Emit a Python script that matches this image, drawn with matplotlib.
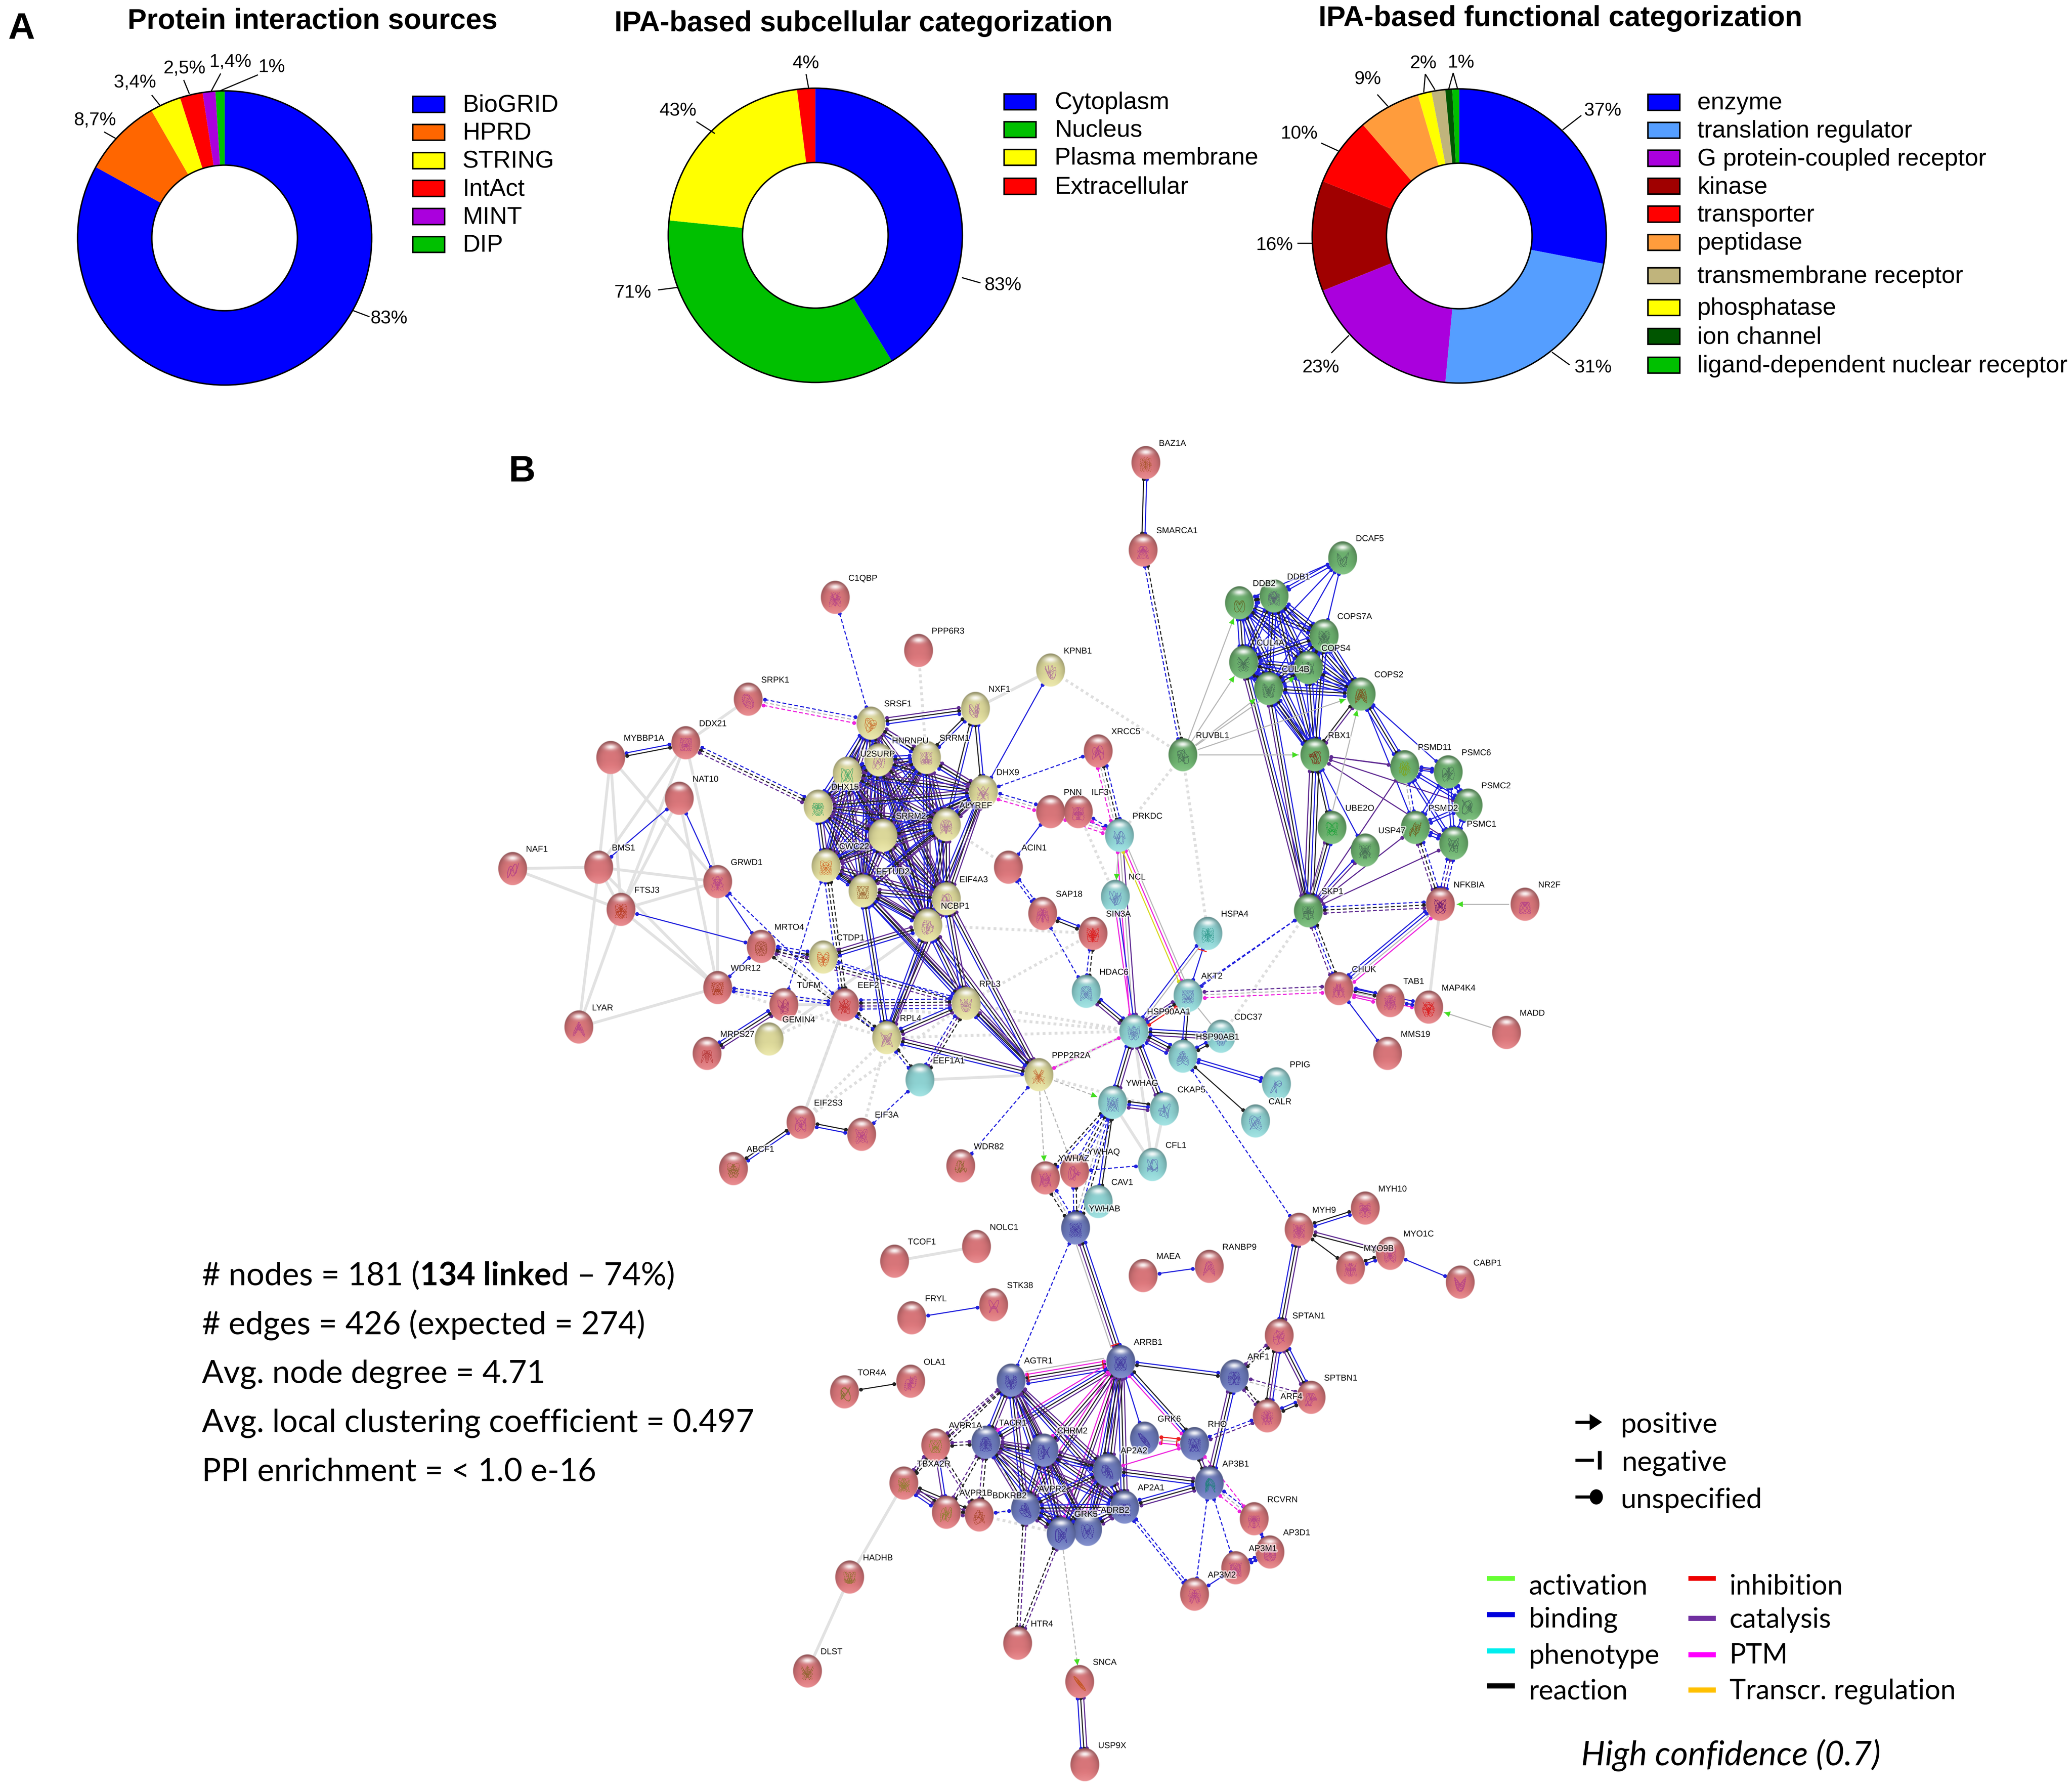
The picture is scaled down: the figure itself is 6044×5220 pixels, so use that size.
import numpy as np
import matplotlib
matplotlib.use("Agg")
import matplotlib.pyplot as plt
import matplotlib.patheffects as pe
from matplotlib.patches import Rectangle, Circle, Polygon, Ellipse

# ---- panel A data ----
source_names = ["BioGRID", "HPRD", "STRING", "IntAct", "MINT", "DIP"]
source_values = [83, 8.7, 3.4, 2.5, 1.4, 1]
source_labels = ["83%", "8,7%", "3,4%", "2,5%", "1,4%", "1%"]
source_colors = ["#0000ff", "#ff6600", "#ffff00", "#ff0000", "#aa00dd", "#00c000"]

subcell_names = ["Cytoplasm", "Nucleus", "Plasma membrane", "Extracellular"]
subcell_values = [83, 71, 43, 4]
subcell_labels = ["83%", "71%", "43%", "4%"]
subcell_colors = ["#0000ff", "#00c000", "#ffff00", "#ff0000"]

# slices run in this order, the legend swaps transmembrane and phosphatase
func_names = ["enzyme", "translation regulator", "G protein-coupled receptor", "kinase",
              "transporter", "peptidase", "phosphatase", "transmembrane receptor",
              "ion channel", "ligand-dependent nuclear receptor"]
func_values = [37, 31, 23, 16, 10, 9, 2, 2, 1, 1]
func_colors = ["#0000ff", "#559eff", "#aa00dd", "#a00000", "#ff0000", "#ff9c3c",
               "#ffff00", "#c0b47c", "#005500", "#00c000"]
func_legend_order = [0, 1, 2, 3, 4, 5, 7, 6, 8, 9]

# ---- panel B nodes ----
red_names = ["BAZ1A", "SMARCA1", "C1QBP", "PPP6R3", "SRPK1", "DDX21", "MYBBP1A", "NAT10", "PNN", "ILF3",
             "NAF1", "BMS1", "GRWD1", "ACIN1", "FTSJ3", "SAP18", "MRTO4", "WDR12", "TUFM", "EEF2",
             "LYAR", "MRPS27", "EIF2S3", "EIF3A", "ABCF1", "WDR82", "XRCC5", "SIN3A", "NFKBIA", "NR2F",
             "CHUK", "TAB1", "MAP4K4", "MADD", "MMS19", "YWHAZ", "YWHAQ", "TCOF1", "NOLC1", "MAEA",
             "RANBP9", "STK38", "FRYL", "MYH9", "MYH10", "MYO9B", "MYO1C", "CABP1", "SPTAN1", "SPTBN1",
             "ARF4", "OLA1", "TOR4A", "AVPR1A", "TBXA2R", "AVPR1B", "BDKRB2", "RCVRN", "AP3D1", "AP3M1",
             "AP3M2", "HADHB", "DLST", "HTR4", "SNCA", "USP9X"]
red_x = [867, 865, 632, 695, 566, 519, 462, 514, 795, 816,
         388, 453, 543, 763, 470, 789, 576, 543, 593, 639,
         438, 535, 606, 652, 555, 727, 831, 827, 1090, 1154,
         1013, 1052, 1081, 1140, 1050, 791, 813, 677, 739, 865,
         915, 752, 690, 983, 1033, 1022, 1052, 1105, 968, 992,
         959, 689, 639, 708, 684, 716, 741, 949, 961, 935,
         904, 643, 611, 770, 817, 821]
red_y = [350, 416, 452, 492, 529, 562, 573, 604, 614, 614,
         657, 656, 667, 656, 688, 691, 716, 747, 760, 760,
         777, 797, 849, 858, 884, 882, 568, 706, 684, 684,
         748, 757, 762, 781, 797, 891, 886, 954, 943, 965,
         958, 987, 997, 930, 914, 959, 948, 970, 1010, 1057,
         1071, 1045, 1053, 1093, 1122, 1144, 1146, 1149, 1174, 1186,
         1206, 1193, 1264, 1243, 1272, 1335]

yellow_names = ["KPNB1", "NXF1", "SRSF1", "SRRM1", "HNRNPU", "U2SURP", "DHX9", "DHX15", "ALYREF", "SRRM2",
                "CWC22", "EFTUD2", "EIF4A3", "NCBP1", "CTDP1", "RPL3", "GEMIN4", "RPL4", "PPP2R2A"]
yellow_x = [795, 738, 659, 701, 665, 641, 744, 619, 716, 668, 625, 653, 716, 702, 623, 731, 582, 671, 786]
yellow_y = [507, 536, 547, 573, 575, 585, 599, 610, 624, 632, 655, 674, 680, 700, 724, 759, 786, 785, 813]

teal_names = ["PRKDC", "NCL", "HSPA4", "HDAC6", "AKT2", "HSP90AA1", "CDC37", "HSP90AB1", "PPIG", "CALR",
              "YWHAG", "CKAP5", "CFL1", "CAV1", "EEF1A1"]
teal_x = [847, 844, 914, 822, 899, 858, 924, 895, 966, 950, 842, 881, 872, 831, 696]
teal_y = [632, 678, 706, 750, 753, 780, 784, 799, 820, 848, 834, 839, 881, 909, 817]

green_names = ["DCAF5", "DDB2", "DDB1", "COPS7A", "CUL4A", "COPS4", "CUL4B", "COPS2", "RUVBL1", "RBX1",
               "PSMD11", "PSMC6", "PSMC2", "UBE2O", "USP47", "PSMD2", "PSMC1", "SKP1"]
green_x = [1016, 938, 964, 1002, 941, 990, 960, 1030, 895, 995, 1063, 1096, 1111, 1008, 1033, 1071, 1100, 990]
green_y = [422, 456, 451, 481, 501, 505, 521, 525, 571, 571, 580, 584, 609, 626, 643, 626, 638, 689]

blue_names = ["YWHAB", "ARRB1", "AGTR1", "ARF1", "TACR1", "CHRM2", "GRK6", "RHO", "AP2A2", "AP3B1",
              "AVPR2", "AP2A1", "ADRB2", "GRK5"]
blue_x = [814, 848, 765, 934, 746, 790, 866, 904, 838, 915, 776, 851, 823, 803]
blue_y = [929, 1030, 1044, 1041, 1091, 1097, 1088, 1092, 1112, 1122, 1141, 1140, 1157, 1160]

# nodes without a structure picture inside
empty_nodes = ["PPP6R3", "MYBBP1A", "NAT10", "PNN", "BMS1", "ACIN1", "SRRM2", "GEMIN4", "EEF1A1", "CAV1",
               "TCOF1", "NOLC1", "FRYL", "MAEA", "HTR4", "USP9X", "MADD", "MMS19"]
structure_colors = {"FTSJ3": "#b03010", "EEF2": "#c02020", "SIN3A": "#dd0000", "MAP4K4": "#dd0000",
                    "CWC22": "#d05010", "CTDP1": "#d04010", "SRSF1": "#c86020", "EFTUD2": "#905020",
                    "DHX15": "#30a060", "U2SURP": "#30a060", "WDR12": "#a03010", "MRTO4": "#904020",
                    "TUFM": "#a03070", "DDB2": "#606020", "DDB1": "#505070", "COPS2": "#804010",
                    "RBX1": "#802010", "UBE2O": "#10a030", "PSMD11": "#80a010", "PSMD2": "#705010",
                    "HSPA4": "#209080", "AP3B1": "#108070", "NFKBIA": "#500070", "SNCA": "#c05010",
                    "PPP2R2A": "#c05020", "BAZ1A": "#a05020", "TOR4A": "#707020", "AVPR1A": "#808020",
                    "TBXA2R": "#808020", "AVPR1B": "#808020", "BDKRB2": "#a04020", "ABCF1": "#806020",
                    "WDR82": "#806020", "HADHB": "#807020", "DLST": "#806020", "MRPS27": "#b03030"}
group_structure = {"#d8767a": "#b03a8a", "#dcd89a": "#a8609a", "#8ed2d2": "#5a6ab0",
                   "#6cb06e": "#406050", "#6c7abb": "#3a2a9a"}

# ---- panel B edges ----
solid_edges = [("BAZ1A", "SMARCA1", "bk"), ("MYBBP1A", "DDX21", "bk"), ("BMS1", "NAT10", "b"), ("NAT10", "GRWD1", "b"),
               ("GRWD1", "MRTO4", "b"), ("FTSJ3", "MRTO4", "b"), ("WDR12", "MRTO4", "b"), ("KPNB1", "DHX9", "b"),
               ("SRSF1", "NXF1", "pkb"), ("NXF1", "SRRM1", "bk"), ("NXF1", "DHX9", "bk"), ("NXF1", "ALYREF", "bk"),
               ("CTDP1", "NCBP1", "pkb"), ("TUFM", "MRPS27", "pkb"), ("ACIN1", "PNN", "b"), ("SAP18", "SIN3A", "bk"),
               ("RPL3", "RPL4", "pkb"), ("RPL4", "PPP2R2A", "pkb"), ("RPL3", "PPP2R2A", "pkb"), ("NCBP1", "RPL3", "pkb"),
               ("NCBP1", "RPL4", "pkb"), ("NCBP1", "PPP2R2A", "pkb"), ("EIF4A3", "PPP2R2A", "pkb"), ("EFTUD2", "RPL3", "pkb"),
               ("EFTUD2", "RPL4", "bkb"), ("EFTUD2", "PPP2R2A", "pkb"), ("EIF4A3", "RPL3", "pkb"), ("EIF4A3", "RPL4", "pkb"),
               ("EIF2S3", "EIF3A", "kb"), ("EIF2S3", "ABCF1", "bk"),
               ("PRKDC", "HSP90AA1", "pgm"), ("PRKDC", "AKT2", "gmy"), ("NCL", "HSP90AA1", "bm"), ("HDAC6", "HSP90AA1", "bkp"),
               ("HSP90AA1", "HSPA4", "bg"), ("HSP90AA1", "AKT2", "pkr"), ("AKT2", "HSPA4", "b"), ("HSP90AA1", "CDC37", "bkp"),
               ("HSP90AA1", "HSP90AB1", "bkpb"), ("HSP90AB1", "AKT2", "bk"), ("HSP90AB1", "CDC37", "bk"), ("AKT2", "CDC37", "g"),
               ("HSP90AA1", "YWHAG", "pkb"), ("HSP90AA1", "CKAP5", "bkp"), ("HSP90AB1", "PPIG", "bb"), ("HSP90AB1", "CALR", "k"),
               ("YWHAG", "CKAP5", "kbp"), ("YWHAG", "CAV1", "kb"),
               ("CHUK", "MMS19", "b"), ("CHUK", "TAB1", "bkgm"), ("CHUK", "MAP4K4", "bgm"), ("TAB1", "MAP4K4", "b"),
               ("CHUK", "NFKBIA", "bbgm"),
               ("SKP1", "RBX1", "pkbk"), ("SKP1", "UBE2O", "pkb"), ("SKP1", "USP47", "bp"), ("SKP1", "PSMD2", "p"),
               ("SKP1", "PSMC1", "p"), ("SKP1", "PSMD11", "p"), ("SKP1", "CUL4A", "pkb"), ("SKP1", "CUL4B", "pkb"),
               ("DCAF5", "DDB1", "bb"), ("DCAF5", "DDB2", "b"), ("DCAF5", "CUL4A", "b"), ("DCAF5", "CUL4B", "b"),
               ("DCAF5", "COPS7A", "b"), ("COPS2", "PSMD11", "bkb"), ("COPS2", "PSMC6", "b"), ("COPS2", "PSMD2", "b"),
               ("RBX1", "PSMD11", "p"), ("RBX1", "PSMC6", "p"), ("RBX1", "PSMC2", "p"), ("RBX1", "PSMC1", "p"),
               ("RBX1", "UBE2O", "bk"), ("RBX1", "USP47", "b"), ("COPS2", "RBX1", "pk"),
               ("YWHAB", "ARRB1", "bkpg"), ("ARRB1", "AGTR1", "bpkmg"), ("ARRB1", "ARF1", "bk"), ("ARRB1", "RHO", "kbm"),
               ("ARRB1", "GRK6", "b"), ("ARRB1", "TACR1", "pkbm"), ("ARRB1", "CHRM2", "pkm"), ("ARRB1", "AP2A2", "pkbk"),
               ("ARRB1", "AP2A1", "pkb"), ("ARRB1", "ADRB2", "pkbm"), ("ARRB1", "GRK5", "pkm"), ("ARRB1", "AVPR2", "pkm"),
               ("MYH9", "MYH10", "kb"), ("MYH9", "MYO9B", "k"), ("MYH9", "MYO1C", "pk"), ("MYO9B", "MYO1C", "kb"),
               ("MYO1C", "CABP1", "b"), ("SPTAN1", "MYH9", "bkp"), ("SPTAN1", "SPTBN1", "bkp"), ("SPTAN1", "ARF4", "bpk"),
               ("ARF4", "SPTBN1", "bk"), ("ARF1", "AP3B1", "bkp"), ("AP3B1", "AP2A1", "pkb"), ("AP3B1", "AP2A2", "bkp"),
               ("AP3B1", "RHO", "kp"), ("RHO", "GRK6", "mgr"), ("RHO", "AP2A2", "m"), ("AP3M1", "AP3M2", "b"),
               ("AP3M1", "AP3D1", "bb"), ("RCVRN", "AP3D1", "b"), ("TOR4A", "OLA1", "k"), ("FRYL", "STK38", "b"),
               ("MAEA", "RANBP9", "b"), ("SNCA", "USP9X", "pkb"), ("TBXA2R", "AVPR1B", "kpb"), ("AVPR1A", "AVPR1B", "bp"),
               ("TBXA2R", "BDKRB2", "kp"), ("AVPR1B", "BDKRB2", "kp"), ("TACR1", "AVPR2", "kp")]

dashed_edges = [("SMARCA1", "RUVBL1", "kb"), ("SRPK1", "SRSF1", "bgm"), ("C1QBP", "SRSF1", "b"), ("DDX21", "DHX15", "bkp"),
                ("XRCC5", "DHX9", "b"), ("DHX9", "PNN", "bgm"), ("PNN", "PRKDC", "bgm"), ("XRCC5", "PRKDC", "bkgm"),
                ("ILF3", "PRKDC", "bm"), ("GRWD1", "EEF2", "b"), ("MRTO4", "CTDP1", "bkp"), ("MRTO4", "RPL3", "bkp"),
                ("MRTO4", "RPL4", "gk"), ("CWC22", "TUFM", "b"), ("CWC22", "EEF2", "kkb"), ("CTDP1", "RPL3", "b"),
                ("WDR12", "EEF2", "bb"), ("EEF2", "RPL3", "bkpb"), ("EEF2", "RPL4", "kb"), ("RPL4", "EEF1A1", "kb"),
                ("RPL3", "EEF1A1", "kpb"), ("ACIN1", "SAP18", "bb"), ("SAP18", "HDAC6", "b"), ("SIN3A", "HDAC6", "kb"),
                ("EIF3A", "EEF1A1", "b"), ("PPP2R2A", "WDR82", "b"), ("PPP2R2A", "HSP90AA1", "m"), ("HSP90AB1", "MYH9", "b"),
                ("PPP2R2A", "YWHAQ", "g"),
                ("SKP1", "AKT2", "b"), ("SKP1", "HSP90AA1", "b"), ("SKP1", "CHUK", "kbp"), ("AKT2", "CHUK", "pgm"),
                ("SKP1", "NFKBIA", "bkp"), ("PSMD2", "NFKBIA", "bkp"), ("PSMC1", "NFKBIA", "bpb"), ("PSMD11", "PSMD2", "bg"),
                ("YWHAG", "YWHAZ", "bk"), ("YWHAG", "YWHAQ", "bkb"), ("YWHAG", "YWHAB", "kbg"), ("YWHAZ", "YWHAB", "bgk"),
                ("YWHAQ", "YWHAB", "kb"), ("CFL1", "YWHAQ", "b"), ("YWHAB", "AGTR1", "b"), ("SPTAN1", "ARF1", "kp"),
                ("ARF1", "ARF4", "kp"), ("ARF1", "SPTBN1", "pg"), ("ARF4", "RHO", "pb"), ("AP3B1", "RCVRN", "bgm"),
                ("AP3B1", "AP3M2", "b"), ("AP3B1", "AP3M1", "b"), ("AP2A1", "AP3M2", "bb"), ("RCVRN", "RHO", "m"),
                ("HTR4", "AVPR2", "kp"), ("HTR4", "GRK5", "kp"), ("AGTR1", "AVPR1A", "kp"), ("AGTR1", "TBXA2R", "kp"),
                ("TACR1", "AVPR1A", "kp"), ("TACR1", "AVPR1B", "kp"), ("TACR1", "BDKRB2", "kp"), ("AVPR1A", "TBXA2R", "kp"),
                ("AVPR1A", "BDKRB2", "kp"), ("BDKRB2", "AVPR2", "b")]

# grey line ending in a green arrow head
arrow_edges = [("RUVBL1", "DDB2"), ("RUVBL1", "CUL4A"), ("RUVBL1", "CUL4B"), ("RUVBL1", "COPS4"), ("RUVBL1", "COPS2"),
               ("RUVBL1", "RBX1"), ("NR2F", "NFKBIA"), ("MADD", "MAP4K4"), ("SKP1", "COPS2"), ("PRKDC", "NCL")]
dashed_arrow_edges = [("PPP2R2A", "YWHAG"), ("PPP2R2A", "YWHAZ"), ("GRK5", "SNCA")]
# small red bars at the end of a line
inhibit_ends = [("YWHAB", "ARRB1"), ("AGTR1", "ARRB1"), ("ARRB1", "AGTR1"), ("GRK6", "RHO"), ("RHO", "GRK6"), ("AKT2", "HSPA4")]

grey_solid = [("MYBBP1A", "BMS1"), ("MYBBP1A", "GRWD1"), ("MYBBP1A", "FTSJ3"), ("DDX21", "BMS1"), ("DDX21", "FTSJ3"),
              ("DDX21", "SRPK1"), ("DDX21", "GRWD1"), ("NAT10", "FTSJ3"), ("NAT10", "WDR12"), ("NAF1", "BMS1"),
              ("NAF1", "FTSJ3"), ("BMS1", "GRWD1"), ("BMS1", "FTSJ3"), ("BMS1", "WDR12"), ("BMS1", "LYAR"),
              ("FTSJ3", "GRWD1"), ("FTSJ3", "WDR12"), ("FTSJ3", "LYAR"), ("GRWD1", "WDR12"), ("LYAR", "WDR12"),
              ("NXF1", "KPNB1"), ("TCOF1", "NOLC1"), ("HADHB", "TBXA2R"), ("HADHB", "DLST"), ("TUFM", "EEF2"),
              ("EEF1A1", "PPP2R2A"), ("PPP2R2A", "HSP90AA1"), ("EEF2", "EIF2S3"), ("GEMIN4", "NCBP1"), ("NFKBIA", "MAP4K4"),
              ("CKAP5", "CFL1"), ("YWHAG", "CFL1"), ("HSP90AA1", "CFL1")]

grey_dotted = [("PPP6R3", "SRRM1"), ("KPNB1", "RUVBL1"), ("RUVBL1", "PRKDC"), ("RUVBL1", "HSPA4"), ("ILF3", "NCL"),
               ("PPP2R2A", "CKAP5"), ("EEF2", "HSP90AA1"), ("RPL3", "HSP90AA1"), ("RPL4", "HSP90AA1"), ("RPL3", "SIN3A"),
               ("WDR12", "EEF2"), ("MRTO4", "RPL4"), ("EIF2S3", "RPL4"), ("EIF2S3", "RPL3"), ("EIF3A", "RPL4"),
               ("EIF2S3", "EEF2"), ("ALYREF", "ACIN1"), ("SKP1", "CDC37"), ("NCBP1", "SIN3A"), ("WDR12", "RPL4"),
               ("BDKRB2", "GRK5"), ("BDKRB2", "AVPR2"), ("TACR1", "AVPR2"), ("AVPR2", "GRK5"), ("EEF2", "GEMIN4")]

# sets drawn as every pair against every other one
splice_clique = ["SRSF1", "SRRM1", "HNRNPU", "U2SURP", "DHX15", "DHX9", "ALYREF", "SRRM2", "CWC22", "EFTUD2", "EIF4A3", "NCBP1"]
cullin_clique = ["DDB2", "DDB1", "CUL4A", "CUL4B", "COPS4", "COPS7A", "COPS2", "RBX1"]
proteasome_clique = ["PSMD11", "PSMC6", "PSMC2", "PSMD2", "PSMC1"]
receptor_clique = ["AGTR1", "TACR1", "CHRM2", "AP2A2", "AP2A1", "ADRB2", "GRK5", "AVPR2"]

# ---- right hand keys and stats ----
effect_names = ["positive", "negative", "unspecified"]
channel_left = ["activation", "binding", "phenotype", "reaction"]
channel_left_colors = ["#66ff33", "#0000dd", "#00eeee", "#000000"]
channel_right = ["inhibition", "catalysis", "PTM", "Transcr. regulation"]
channel_right_colors = ["#ee0000", "#7030a0", "#ff00ff", "#ffc000"]

# overlay works in the 1568 x 1354 units the positions were read in
W, H = 1568.0, 1354.0
fig = plt.figure(figsize=(60.44, 52.2), dpi=100, facecolor="white")
ax = fig.add_axes([0, 0, 1, 1], zorder=3)
ax.set_xlim(0, W)
ax.set_ylim(H, 0)
ax.axis("off")
ax.patch.set_alpha(0)
ax.set_autoscale_on(False)

ARIAL = "Liberation Sans"
CALIBRI = "Lato"


def donut(cx, cy, values, colors, r=111.3):
    m = r * 1.06
    pie_ax = fig.add_axes([(cx - m) / W, 1 - (cy + m) / H, 2 * m / W, 2 * m / H], zorder=1)
    pie_ax.pie(values, colors=colors, startangle=90, counterclock=False, radius=1,
               wedgeprops=dict(width=0.505, linewidth=0))
    pie_ax.set_xlim(-1.06, 1.06)
    pie_ax.set_ylim(-1.06, 1.06)
    pie_ax.add_patch(Circle((0, 0), 1, fill=False, ec="black", lw=3))
    pie_ax.add_patch(Circle((0, 0), 0.495, fill=False, ec="black", lw=3))


def pie_text(labels, places, leaders):
    for s, (x, y) in zip(labels, places):
        ax.text(x, y, s, family=ARIAL, fontsize=39, ha="center", va="center")
    for (x0, y0, x1, y1) in leaders:
        ax.plot([x0, x1], [y0, y1], color="black", lw=2.4, solid_capstyle="butt")


def legend_rows(names, colors, x, ys, text_x):
    for s, c, y in zip(names, colors, ys):
        ax.add_patch(Rectangle((x, y - 6), 24, 12, fc=c, ec="black", lw=3.2))
        ax.text(text_x, y + 0.8, s, family=ARIAL, fontsize=51, ha="left", va="center")


donut(170, 180, source_values, source_colors)
donut(617, 178, subcell_values, subcell_colors)
donut(1104.3, 178.5, func_values, func_colors)

ax.text(96.6, 16, "Protein interaction sources", family=ARIAL, weight="bold", fontsize=60, ha="left", va="center")
ax.text(465, 18, "IPA-based subcellular categorization", family=ARIAL, weight="bold", fontsize=60, ha="left", va="center")
ax.text(997.8, 14, "IPA-based functional categorization", family=ARIAL, weight="bold", fontsize=60, ha="left", va="center")
ax.text(6, 22, "A", family=ARIAL, weight="bold", fontsize=78, ha="left", va="center")
ax.text(385, 357, "B", family=ARIAL, weight="bold", fontsize=78, ha="left", va="center")

pie_text(source_labels,
         [(294.5, 241), (72, 91), (102.2, 62.5), (139.6, 52), (174.4, 47), (205.8, 51)],
         [(267.4, 235, 279.6, 239.6), (78.8, 99.8, 87.7, 104.8), (114.8, 71.9, 120.8, 79.4),
          (139, 60.5, 143.3, 71), (167, 55.6, 159.8, 69), (195.2, 56.6, 167, 68.5)])
pie_text(subcell_labels,
         [(759, 216), (478.8, 221.7), (513, 84), (610, 48)],
         [(728, 210, 742, 214), (498, 219.3, 512.9, 217.4), (527, 92, 541, 101), (610, 56, 612, 67)])
pie_text(["37%", "31%", "23%", "16%", "10%", "9%", "2%", "1%"],
         [(1212.9, 83.8), (1205.6, 278.3), (999.4, 278.3), (964.6, 185.6), (983.2, 101.2), (1035, 60), (1077, 48.2), (1105.7, 47.6)],
         [(1196.7, 87.3, 1182.5, 98.3), (1187.8, 276, 1174.5, 266.4), (1007.5, 267, 1020.8, 253.7), (981.6, 184, 993, 184),
          (999.8, 108.2, 1012.7, 114.1), (1042.3, 71.5, 1050.3, 80.4), (1078.6, 56, 1077.4, 69.9), (1078.6, 56, 1085.9, 67.9),
          (1099.7, 55.2, 1096.4, 67.1), (1099.7, 55.2, 1102.9, 66.7)])

legend_rows(source_names, source_colors, 312.4, [79, 100.2, 121.5, 142.5, 163.8, 185], 350)
legend_rows(subcell_names, subcell_colors, 760, [77, 98, 119, 141], 798)
legend_rows([func_names[i] for i in func_legend_order], [func_colors[i] for i in func_legend_order],
            1247.2, [77.4, 98.5, 119.7, 140.9, 162, 183.4, 208.6, 232.6, 254.5, 276.3], 1284.4)

# ---- network ----
pos = {}
node_color = {}
for names, xs, ys, col in [(red_names, red_x, red_y, "#d8767a"), (yellow_names, yellow_x, yellow_y, "#dcd89a"),
                           (teal_names, teal_x, teal_y, "#8ed2d2"), (green_names, green_x, green_y, "#6cb06e"),
                           (blue_names, blue_x, blue_y, "#6c7abb")]:
    for n, x, y in zip(names, xs, ys):
        pos[n] = np.array([x, y], dtype=float)
        node_color[n] = col

edge_colors = {"b": "#2020dd", "k": "#222222", "p": "#5f2a92", "m": "#ee22dd", "g": "#b8b8b8",
               "r": "#ee2020", "y": "#d8d820"}
R = 12.5
GAP = 2.3


def bundle(a, b, kinds, dashed=False):
    pa, pb = pos[a], pos[b]
    d = (pb - pa) / np.linalg.norm(pb - pa)
    n = np.array([-d[1], d[0]])
    ls = (0, (3.5, 2)) if dashed else "-"
    for i, k in enumerate(kinds):
        off = n * (i - (len(kinds) - 1) / 2) * GAP
        p0 = pa + d * R + off
        p1 = pb - d * R + off
        ax.plot([p0[0], p1[0]], [p0[1], p1[1]], color=edge_colors[k], lw=2.3, ls=ls, zorder=2)
        if k != "g":
            ax.plot([p0[0], p1[0]], [p0[1], p1[1]], "o", color=edge_colors[k], ms=8, mew=0, zorder=3)


for a, b in grey_solid:
    ax.plot([pos[a][0], pos[b][0]], [pos[a][1], pos[b][1]], color="#e2e2e2", lw=6, zorder=1)
for a, b in grey_dotted:
    ax.plot([pos[a][0], pos[b][0]], [pos[a][1], pos[b][1]], color="#dedede", lw=6, ls=(0, (1, 1.1)), zorder=1)

seen = set()
for a, b, kinds in solid_edges:
    bundle(a, b, kinds)
    seen.add(frozenset((a, b)))
for a, b, kinds in dashed_edges:
    bundle(a, b, kinds, dashed=True)
    seen.add(frozenset((a, b)))

for members, kinds in [(splice_clique, "pkb"), (cullin_clique, "bkb"), (proteasome_clique, "bb"), (receptor_clique, "pkb")]:
    for i, a in enumerate(members):
        for b in members[i + 1:]:
            if frozenset((a, b)) not in seen:
                bundle(a, b, kinds)

for edges, style in [(arrow_edges, "-"), (dashed_arrow_edges, (0, (3.5, 2)))]:
    for a, b in edges:
        pa, pb = pos[a], pos[b]
        d = (pb - pa) / np.linalg.norm(pb - pa)
        n = np.array([-d[1], d[0]])
        tip = pb - d * R
        ax.plot([pa[0] + d[0] * R, tip[0]], [pa[1] + d[1] * R, tip[1]], color="#b8b8b8", lw=2.3, ls=style, zorder=2)
        ax.add_patch(Polygon([tip, tip - d * 4.5 + n * 2.2, tip - d * 4.5 - n * 2.2], fc="#44dd22", ec="none", zorder=3))

for a, b in inhibit_ends:
    d = (pos[b] - pos[a]) / np.linalg.norm(pos[b] - pos[a])
    n = np.array([-d[1], d[0]])
    c = pos[b] - d * (R + 1)
    ax.plot([c[0] - n[0] * 3, c[0] + n[0] * 3], [c[1] - n[1] * 3, c[1] + n[1] * 3], color="#ee2020", lw=2.3, zorder=3)


def sphere(hex_color, size=110):
    c = np.array(matplotlib.colors.to_rgb(hex_color))
    u, v = np.meshgrid(np.linspace(-1, 1, size), np.linspace(1, -1, size))
    r = np.sqrt(u ** 2 + v ** 2)
    rim = np.clip(r, 0, 1) ** 3
    shade = 1 - 0.42 * rim * (0.55 + 0.45 * v) + 0.16 * np.clip(-v - 0.2, 0, 1)
    img = np.clip(c[None, None, :] * shade[:, :, None], 0, 1)
    # glow at the bottom and the white spot at the top
    glow = np.clip(-v - 0.45, 0, 1)[:, :, None] * 0.5
    img = img * (1 - glow) + glow * (0.5 + 0.5 * c[None, None, :])
    spot = np.exp(-(u / 0.42) ** 2 - ((v - 0.62) / 0.17) ** 2)[:, :, None] * 0.9
    img = img * (1 - spot) + spot
    alpha = np.clip((1 - r) / 0.05, 0, 1)
    return np.dstack([img, alpha])


textures = {c: sphere(c) for c in set(node_color.values())}
RX, RY = 11.2, 12.9
for idx, (name, p) in enumerate(pos.items()):
    ax.imshow(textures[node_color[name]], extent=(p[0] - RX, p[0] + RX, p[1] + RY, p[1] - RY), origin="upper",
              aspect="auto", interpolation="bilinear", zorder=5)
    if name not in empty_nodes:
        # small tangle standing for the protein structure picture
        t = np.linspace(0, 2 * np.pi, 400)
        sx = p[0] + 4.5 * np.sin((7 + idx % 5) * t + idx) * np.cos((2 + idx % 3) * t)
        sy = p[1] + 1.5 + 5.5 * np.sin((11 + idx % 4) * t + idx * 0.7) * np.cos((3 + idx % 2) * t)
        col = structure_colors.get(name, group_structure[node_color[name]])
        ax.plot(sx, sy, color=col, lw=0.9, alpha=0.75, zorder=6, ls=(0, (3, 1.5)))

halo = [pe.withStroke(linewidth=6, foreground="white", alpha=0.65)]
for name, p in pos.items():
    ax.text(p[0] + 10, p[1] - 14.5, name, family=ARIAL, fontsize=18, ha="left", va="center", color="#111111",
            zorder=7, path_effects=halo)

# ---- stats block with the bold run ----
renderer = fig.canvas.get_renderer()
stat_lines = [[("# nodes = 181 (", "normal"), ("134 linke", "bold"), ("d – 74%)", "normal")],
              [("# edges = 426 (expected = 274)", "normal")],
              [("Avg. node degree = 4.71", "normal")],
              [("Avg. local clustering coefficient = 0.497", "normal")],
              [("PPI enrichment = < 1.0 e-16", "normal")]]
stat_baselines = [972.2, 1009.2, 1046, 1083.3, 1120.3]
for parts, base in zip(stat_lines, stat_baselines):
    x = 152.9
    for s, w in parts:
        t = ax.text(x, base, s, family=CALIBRI, weight=w, fontsize=67, ha="left", va="baseline")
        x += t.get_window_extent(renderer).width / (6044 / W)

# ---- effect key ----
for s, y, base, tx in zip(effect_names, [1075.7, 1104.5, 1132.3], [1083.7, 1112.6, 1140.8], [1226.4, 1227.3, 1226.4]):
    ax.plot([1192.1, 1206], [y, y], color="black", lw=6.5, solid_capstyle="butt")
    ax.text(tx, base, s, family=CALIBRI, fontsize=59, ha="left", va="baseline")
ax.add_patch(Polygon([(1212.4, 1075.7), (1203, 1069.5), (1203, 1081.9)], fc="black", ec="none"))
ax.plot([1210.5, 1210.5], [1097.5, 1111.5], color="black", lw=8, solid_capstyle="butt")
ax.add_patch(Ellipse((1208, 1132.3), 10, 11.5, fc="black", ec="none"))

# ---- channel key ----
for names, colors, sx, tx, sw_ys in [(channel_left, channel_left_colors, 1125.5, 1157, [1194, 1221.4, 1248.8, 1275.2]),
                                     (channel_right, channel_right_colors, 1277.6, 1308.8, [1194, 1224.2, 1251.6, 1278.4])]:
    for s, c, y, base in zip(names, colors, sw_ys, [1205.9, 1231.1, 1258.3, 1285.3]):
        ax.add_patch(Rectangle((sx, y - 1.9), 20.8, 3.8, fc=c, ec="none"))
        ax.text(tx, base, s, family=CALIBRI, fontsize=58, ha="left", va="baseline")

ax.text(1196.4, 1335.4, "High confidence (0.7)", family=CALIBRI, style="italic", fontsize=71, ha="left", va="baseline")

fig.savefig("out.png", dpi=100)
